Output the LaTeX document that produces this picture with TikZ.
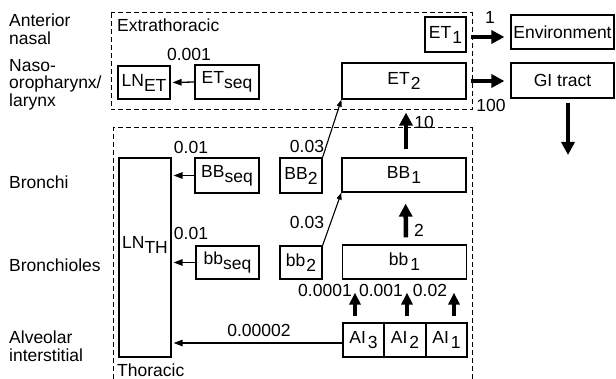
\documentclass[tikz,border=0pt]{standalone}
\usepackage{fontspec}
\setmainfont{Liberation Sans}
\usetikzlibrary{arrows.meta}
\newcommand\lowr[1]{\raisebox{-5pt}{#1}}
\begin{document}
\begin{tikzpicture}[x=1pt,y=-1pt,
  font=\fontsize{17.5}{17.5}\selectfont,
  box/.style={draw,line width=1.2pt,inner sep=0pt},
  lbl/.style={inner sep=0pt},
  side/.style={inner sep=0pt,anchor=west,align=left,font=\fontsize{17.5}{17.5}\selectfont},
  region/.style={draw,line width=1pt,dash pattern=on 5pt off 3pt},
  bigarr/.style={line width=4.5pt,-{Triangle[length=13pt,width=13pt]}},
  thinarr/.style={line width=1.3pt,-{Triangle[length=9pt,width=6.5pt]}},
  slant/.style={line width=1.1pt,-{Triangle[length=7pt,width=5pt]}}]
\useasboundingbox (0,0) rectangle (616,379);
% regions
\draw[region] (111,13) rectangle (472,110);
\draw[region] (113,379) -- (113,128) -- (472,128) -- (472,379);
\node[side] (ext) at (117,25) {Extrathoracic};
\node[side] (tho) at (117,370) {Thoracic};
% side labels
\node[side] (s1) at (9,29) {Anterior\\nasal};
\node[side] (s2) at (9,84.5) {Naso-\\oropharynx/\\larynx};
\node[side] (s3) at (9,182) {Bronchi};
\node[side] (s4) at (9,265) {Bronchioles};
\node[side] (s5) at (9,346) {Alveolar\\interstitial};
% boxes
\node[box,minimum width=52pt,minimum height=33pt] (lnet) at (144,82.5) {LN\lowr{ET}};
\node[box,minimum width=64pt,minimum height=34pt] (etseq) at (227,82) {ET\lowr{seq}};
\node[box,minimum width=41pt,minimum height=35pt] (et1) at (445.5,34.5) {ET\kern1pt\lowr{1}};
\node[box,minimum width=103pt,minimum height=34pt] (env) at (562.5,32) {Environment};
\node[box,minimum width=124pt,minimum height=36pt] (et2) at (404,81) {ET\kern1pt\lowr{2}};
\node[box,minimum width=103pt,minimum height=35pt] (gi) at (562.5,80.5) {GI tract};
\node[box,minimum width=64pt,minimum height=35pt] (bbseq) at (227,175.5) {BB\lowr{seq}};
\node[box,minimum width=42pt,minimum height=35pt] (bb2u) at (301,175.5) {BB\lowr{2}};
\node[box,minimum width=124pt,minimum height=34pt] (bb1u) at (404,175) {BB\kern1pt\lowr{1}};
\node[box,minimum width=52pt,minimum height=199pt,text depth=30pt] (lnth) at (145,257.5) {LN\lowr{TH}};
\node[box,minimum width=63pt,minimum height=33pt] (bbseql) at (227.5,262.5) {bb\lowr{seq}};
\node[box,minimum width=42pt,minimum height=33pt] (bb2l) at (301,262.5) {bb\kern1pt\lowr{2}};
\node[box,minimum width=124pt,minimum height=34pt] (bb1l) at (404.5,262) {bb\kern2pt\lowr{1}};
\node[box,minimum width=41pt,minimum height=34pt] (ai3) at (363.5,340) {AI\kern2pt\lowr{3}};
\node[box,minimum width=42pt,minimum height=34pt] (ai2) at (405,340) {AI\kern2pt\lowr{2}};
\node[box,minimum width=41pt,minimum height=34pt] (ai1) at (446.5,340) {AI\kern2pt\lowr{1}};
\coordinate (gidown) at (568,155);
% connectors
\draw[thinarr,shorten >=2pt] (etseq.west) -- (lnet.east);
\draw[thinarr,shorten >=2pt] (bbseq.west) -- (bbseq.west -| lnth.east);
\draw[thinarr,shorten >=2pt] (bbseql.west) -- (bbseql.west -| lnth.east);
\draw[thinarr,shorten >=2pt] ([yshift=-3pt]ai3.west) -- ([yshift=-3pt]ai3.west -| lnth.east);
\draw[slant] (bb2u.north east) -- (et2.south west);
\draw[slant] (bb2l.north east) -- (bb1u.south west);
\draw[bigarr,shorten <=4pt,shorten >=6pt] ([yshift=-2.5pt]et1.east) -- ([yshift=-2.5pt]et1.east -| env.west);
\draw[bigarr,shorten <=4pt,shorten >=6pt] (et2.east) -- (et2.east -| gi.west);
\draw[bigarr,shorten <=4pt] ([xshift=5.5pt]gi.south) -- (gidown);
\draw[bigarr,shorten <=8pt,shorten >=13pt] ([xshift=2pt]bb1u.north) -- ([xshift=2pt]et2.south);
\draw[bigarr,shorten <=7pt,shorten >=11pt] ([xshift=1.5pt]bb1l.north) -- ([xshift=1.5pt]bb1u.south);
\draw[bigarr,shorten <=6pt,shorten >=13pt,-{Triangle[length=12pt,width=11pt]}] ([xshift=-8.5pt]ai3.north) -- ([xshift=-8.5pt]ai3.north |- bb1l.south);
\draw[bigarr,shorten <=6pt,shorten >=13pt,-{Triangle[length=12pt,width=11pt]}] ([xshift=2pt]ai2.north) -- ([xshift=2pt]ai2.north |- bb1l.south);
\draw[bigarr,shorten <=6pt,shorten >=13pt,-{Triangle[length=12pt,width=11pt]}] ([xshift=7.5pt]ai1.north) -- ([xshift=7.5pt]ai1.north |- bb1l.south);
% rate labels
\node[lbl] (r1) at (189,54) {0.001};
\node[lbl] (r2) at (490,17) {1};
\node[lbl] (r3) at (491,105) {100};
\node[lbl] (r4) at (191,147) {0.01};
\node[lbl] (r5) at (307,146) {0.03};
\node[lbl] (r6) at (424,122) {10};
\node[lbl] (r7) at (191,233) {0.01};
\node[lbl] (r8) at (307,222) {0.03};
\node[lbl] (r9) at (419,230) {2};
\node[lbl] (r10) at (325,290) {0.0001};
\node[lbl] (r11) at (381,290) {0.001};
\node[lbl] (r12) at (430,290) {0.02};
\node[lbl] (r13) at (259,330) {0.00002};
\end{tikzpicture}
\end{document}
